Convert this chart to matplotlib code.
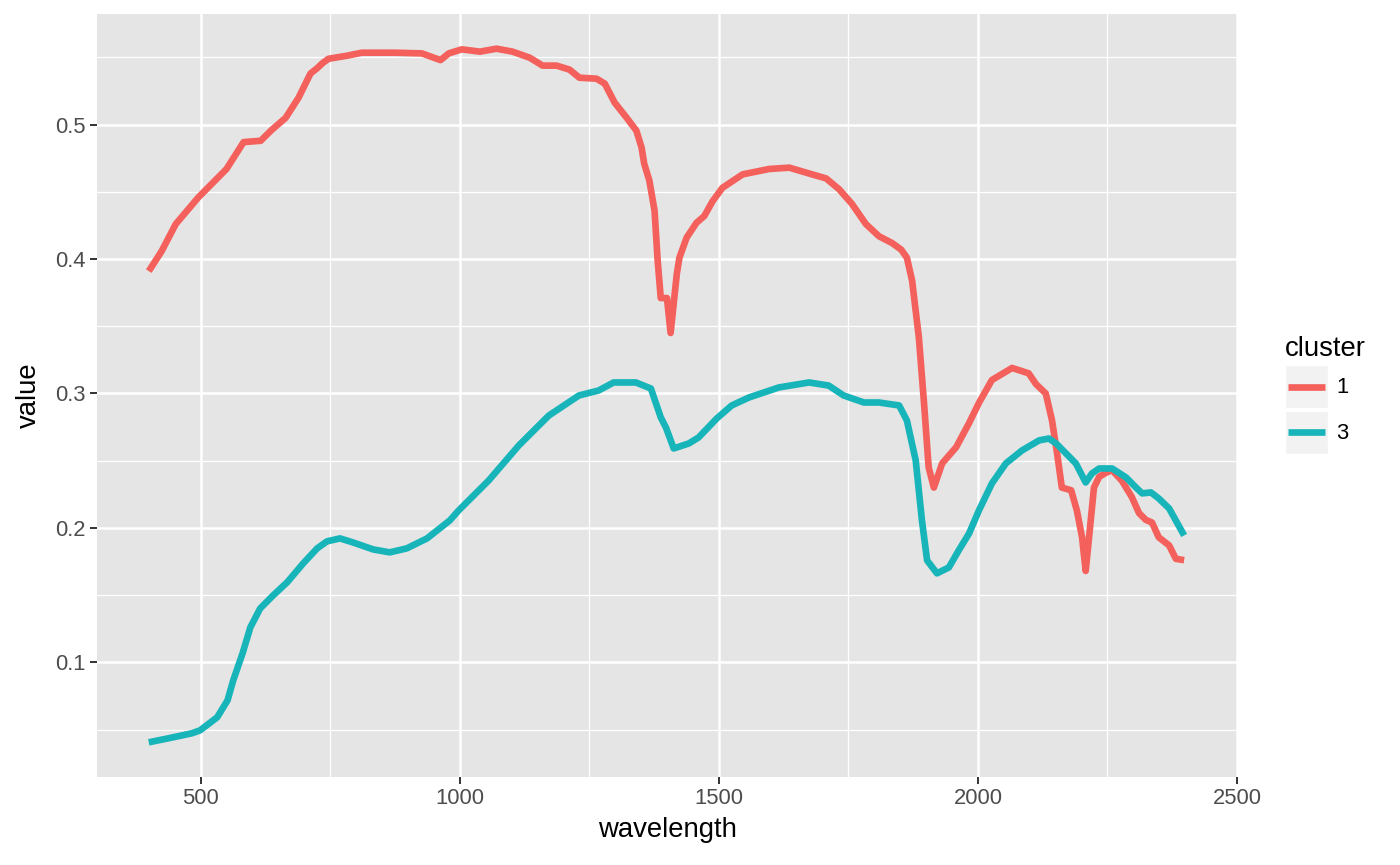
import matplotlib
matplotlib.use('Agg')
import matplotlib.pyplot as plt
from matplotlib.legend_handler import HandlerLine2D
from matplotlib.patches import Rectangle
from matplotlib.ticker import MultipleLocator

# cluster 1 spectrum
wl_1 = [400, 425, 452, 496, 550, 583, 616, 637, 664, 689, 712, 725, 736, 747,
        783, 811, 876, 927, 963, 979, 1004, 1039, 1071, 1102, 1135, 1160, 1187,
        1212, 1231, 1264, 1280, 1299, 1322, 1341, 1351, 1356, 1366, 1376, 1382,
        1388, 1400, 1407, 1419, 1424, 1438, 1457, 1472, 1488, 1507, 1546, 1597,
        1636, 1680, 1707, 1732, 1757, 1784, 1809, 1834, 1852, 1863, 1873, 1886,
        1896, 1905, 1915, 1931, 1958, 1983, 2002, 2027, 2066, 2098, 2112, 2131,
        2143, 2153, 2162, 2180, 2191, 2201, 2208, 2214, 2224, 2234, 2247, 2259,
        2278, 2297, 2311, 2324, 2336, 2349, 2369, 2382, 2398]
val_1 = [0.391, 0.406, 0.426, 0.446, 0.467, 0.487, 0.488, 0.496, 0.505, 0.520,
         0.538, 0.542, 0.546, 0.549, 0.5513, 0.5535, 0.5535, 0.553, 0.548, 0.553,
         0.556, 0.5543, 0.5565, 0.5543, 0.5498, 0.5439, 0.5439, 0.5409, 0.5349,
         0.5342, 0.5305, 0.5164, 0.5052, 0.4955, 0.4829, 0.471, 0.4584, 0.4361,
         0.399, 0.371, 0.371, 0.345, 0.389, 0.401, 0.416, 0.427, 0.432, 0.443,
         0.453, 0.463, 0.467, 0.468, 0.463, 0.460, 0.452, 0.441, 0.426, 0.417,
         0.412, 0.407, 0.401, 0.384, 0.342, 0.293, 0.245, 0.230, 0.248, 0.260,
         0.278, 0.293, 0.310, 0.319, 0.315, 0.307, 0.300, 0.280, 0.255, 0.230,
         0.228, 0.213, 0.193, 0.168, 0.191, 0.230, 0.238, 0.241, 0.243, 0.235,
         0.223, 0.211, 0.206, 0.204, 0.193, 0.187, 0.177, 0.176]

# cluster 3 spectrum
wl_3 = [400, 438, 483, 499, 532, 552, 563, 581, 596, 615, 640, 667, 698, 725,
        744, 769, 794, 833, 865, 898, 937, 981, 998, 1056, 1114, 1172, 1230,
        1268, 1297, 1340, 1369, 1388, 1398, 1413, 1442, 1461, 1496, 1525, 1558,
        1616, 1674, 1712, 1741, 1780, 1809, 1848, 1863, 1880, 1892, 1902, 1921,
        1944, 1963, 1983, 2002, 2027, 2054, 2085, 2118, 2137, 2151, 2170, 2189,
        2208, 2220, 2234, 2259, 2286, 2305, 2317, 2334, 2349, 2369, 2398]
val_3 = [0.0405, 0.0435, 0.0472, 0.0494, 0.0591, 0.0717, 0.0866, 0.1067, 0.126,
         0.1401, 0.1498, 0.1595, 0.1736, 0.1848, 0.190, 0.1922, 0.1892, 0.184,
         0.1818, 0.1848, 0.1922, 0.2056, 0.213, 0.2353, 0.2613, 0.2836, 0.2985,
         0.3022, 0.3082, 0.3082, 0.3037, 0.2822, 0.2747, 0.2591, 0.2628, 0.2673,
         0.2814, 0.2911, 0.297, 0.3045, 0.3082, 0.3059, 0.2985, 0.2933, 0.2933,
         0.2911, 0.2799, 0.2502, 0.2056, 0.1758, 0.1662, 0.1706, 0.1833, 0.1959,
         0.213, 0.2331, 0.248, 0.2576, 0.2651, 0.2665, 0.2628, 0.2554, 0.248,
         0.2338, 0.2405, 0.2442, 0.2442, 0.2375, 0.2301, 0.2257, 0.2264, 0.2219,
         0.2145, 0.1944]

clusters = ['1', '3']
colours  = ['#F4615C', '#17B5B9']

TICK_SIZE  = 15.8
TITLE_SIZE = 19.8
plt.rcParams['font.family'] = ['Liberation Sans', 'DejaVu Sans']


class KeyHandler(HandlerLine2D):
    # ggplot style legend key: grey square behind the line
    def create_artists(self, legend, orig_handle, xdescent, ydescent,
                       width, height, fontsize, trans):
        bg = Rectangle((-xdescent, -ydescent), width, height,
                       facecolor='#F2F2F2', edgecolor='white', lw=1.0,
                       transform=trans)
        arts = super().create_artists(legend, orig_handle, xdescent, ydescent,
                                      width, height, fontsize, trans)
        mid = -ydescent + height/2
        for a in arts:
            a.set_xdata([-xdescent + 0.07*width, -xdescent + 0.93*width])
            a.set_ydata([mid, mid])
        return [bg] + list(arts)


fig = plt.figure(figsize=(14, 8.65), dpi=100)
ax = fig.add_axes([97/1400, 1-777/865, (1237-97)/1400, (777-14)/865])
ax.set_facecolor('#E5E5E5')

for wl, val, name, col in zip([wl_1, wl_3], [val_1, val_3], clusters, colours):
    ax.plot(wl, val, color=col, lw=4.8, label=name,
            solid_joinstyle='round', solid_capstyle='butt', zorder=3)

# ggplot style 5% expansion
xmin, xmax = min(wl_1 + wl_3), max(wl_1 + wl_3)
ymin, ymax = min(val_1 + val_3), max(val_1 + val_3)
dx, dy = 0.05*(xmax-xmin), 0.05*(ymax-ymin)
ax.set_xlim(xmin-dx, xmax+dx)
ax.set_ylim(ymin-dy, ymax+dy)

ax.xaxis.set_minor_locator(MultipleLocator(250))
ax.yaxis.set_minor_locator(MultipleLocator(0.05))
ax.set_xticks([500, 1000, 1500, 2000, 2500])
ax.set_yticks([0.1, 0.2, 0.3, 0.4, 0.5])
ax.set_yticklabels(['0.1', '0.2', '0.3', '0.4', '0.5'])

ax.grid(which='major', color='white', lw=1.8, zorder=1)
ax.grid(which='minor', color='white', lw=0.9, zorder=1)
ax.set_axisbelow(True)
for s in ax.spines.values():
    s.set_visible(False)
ax.tick_params(which='major', length=5, width=1.4, color='#333333',
               labelsize=TICK_SIZE, labelcolor='#4D4D4D', pad=3)
ax.tick_params(which='minor', length=0)

ax.set_xlabel('wavelength', fontsize=TITLE_SIZE, labelpad=6)
ax.set_ylabel('value', fontsize=TITLE_SIZE, labelpad=10)

leg = ax.legend(title='cluster', loc='upper left',
                bbox_to_anchor=(1285/1400, 1-336/865),
                bbox_transform=fig.transFigure, frameon=False,
                fontsize=TICK_SIZE, title_fontsize=TITLE_SIZE,
                handlelength=1.95, handleheight=2.63, labelspacing=0.14,
                handletextpad=0.4, borderpad=0, borderaxespad=0,
                alignment='left', handler_map={plt.Line2D: KeyHandler()})
for line in leg.get_lines():
    line.set_linewidth(4.8)

fig.savefig('out.png', dpi=100)
